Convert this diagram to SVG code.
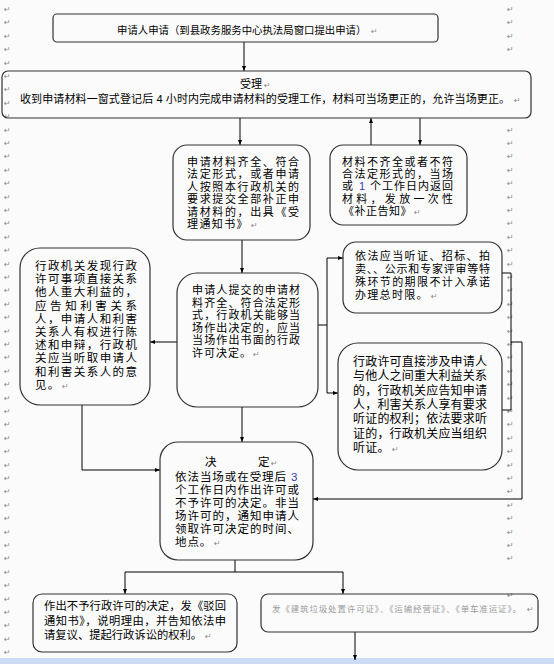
<svg xmlns="http://www.w3.org/2000/svg" width="554" height="664" viewBox="0 0 554 664">
<defs>
<marker id="ah" viewBox="0 0 10 10" refX="10" refY="5" markerWidth="5" markerHeight="5" orient="auto" markerUnits="userSpaceOnUse"><path d="M0,1 L10,5 L0,9 z" fill="#000"/></marker>
<style>
.box{fill:none;stroke:#333;stroke-width:1.2}
.t{font-family:"Liberation Sans","Noto Sans CJK SC","Noto Sans CJK JP",sans-serif;font-size:11px;fill:#000}
.pm{font-family:"DejaVu Sans",sans-serif;font-size:8px;fill:#8a8a8a}
.ln{fill:none;stroke:#000;stroke-width:1}
.ar{fill:none;stroke:#000;stroke-width:1;marker-end:url(#ah)}
.blue{fill:#3a3ab0}
</style>
</defs>
<rect x="0" y="0" width="554" height="664" fill="#fbfbfb"/>
<rect x="0" y="658" width="554" height="6" fill="#cbdcf4"/>

<g id="marks">
<text class="pm" x="4" y="12"><tspan x="4" dy="0">↵</tspan><tspan x="4" dy="13.4">↵</tspan><tspan x="4" dy="13.4">↵</tspan><tspan x="4" dy="13.4">↵</tspan><tspan x="4" dy="13.4">↵</tspan><tspan x="4" dy="13.4">↵</tspan><tspan x="4" dy="13.4">↵</tspan><tspan x="4" dy="13.4">↵</tspan><tspan x="4" dy="13.4">↵</tspan><tspan x="4" dy="13.4">↵</tspan><tspan x="4" dy="13.4">↵</tspan><tspan x="4" dy="13.4">↵</tspan><tspan x="4" dy="13.4">↵</tspan><tspan x="4" dy="13.4">↵</tspan><tspan x="4" dy="13.4">↵</tspan><tspan x="4" dy="13.4">↵</tspan><tspan x="4" dy="13.4">↵</tspan><tspan x="4" dy="13.4">↵</tspan><tspan x="4" dy="13.4">↵</tspan><tspan x="4" dy="13.4">↵</tspan><tspan x="4" dy="13.4">↵</tspan><tspan x="4" dy="13.4">↵</tspan><tspan x="4" dy="13.4">↵</tspan><tspan x="4" dy="13.4">↵</tspan><tspan x="4" dy="13.4">↵</tspan><tspan x="4" dy="13.4">↵</tspan><tspan x="4" dy="13.4">↵</tspan><tspan x="4" dy="13.4">↵</tspan><tspan x="4" dy="13.4">↵</tspan><tspan x="4" dy="13.4">↵</tspan><tspan x="4" dy="13.4">↵</tspan><tspan x="4" dy="13.4">↵</tspan><tspan x="4" dy="13.4">↵</tspan><tspan x="4" dy="13.4">↵</tspan><tspan x="4" dy="13.4">↵</tspan><tspan x="4" dy="13.4">↵</tspan><tspan x="4" dy="13.4">↵</tspan><tspan x="4" dy="13.4">↵</tspan><tspan x="4" dy="13.4">↵</tspan><tspan x="4" dy="13.4">↵</tspan><tspan x="4" dy="13.4">↵</tspan><tspan x="4" dy="13.4">↵</tspan><tspan x="4" dy="13.4">↵</tspan><tspan x="4" dy="13.4">↵</tspan><tspan x="4" dy="13.4">↵</tspan><tspan x="4" dy="13.4">↵</tspan><tspan x="4" dy="13.4">↵</tspan><tspan x="4" dy="13.4">↵</tspan><tspan x="4" dy="13.4">↵</tspan></text>
<text class="pm" x="507" y="12"><tspan x="507" dy="0">↵</tspan><tspan x="507" dy="13.4">↵</tspan><tspan x="507" dy="13.4">↵</tspan><tspan x="507" dy="13.4">↵</tspan></text>
<text class="pm" x="507" y="132.6"><tspan x="507" dy="0">↵</tspan><tspan x="507" dy="13.4">↵</tspan><tspan x="507" dy="13.4">↵</tspan><tspan x="507" dy="13.4">↵</tspan><tspan x="507" dy="13.4">↵</tspan><tspan x="507" dy="13.4">↵</tspan><tspan x="507" dy="13.4">↵</tspan><tspan x="507" dy="13.4">↵</tspan><tspan x="507" dy="13.4">↵</tspan><tspan x="507" dy="13.4">↵</tspan><tspan x="507" dy="13.4">↵</tspan><tspan x="507" dy="13.4">↵</tspan><tspan x="507" dy="13.4">↵</tspan><tspan x="507" dy="13.4">↵</tspan><tspan x="507" dy="13.4">↵</tspan><tspan x="507" dy="13.4">↵</tspan><tspan x="507" dy="13.4">↵</tspan><tspan x="507" dy="13.4">↵</tspan><tspan x="507" dy="13.4">↵</tspan><tspan x="507" dy="13.4">↵</tspan><tspan x="507" dy="13.4">↵</tspan><tspan x="507" dy="13.4">↵</tspan><tspan x="507" dy="13.4">↵</tspan><tspan x="507" dy="13.4">↵</tspan><tspan x="507" dy="13.4">↵</tspan><tspan x="507" dy="13.4">↵</tspan><tspan x="507" dy="13.4">↵</tspan><tspan x="507" dy="13.4">↵</tspan><tspan x="507" dy="13.4">↵</tspan><tspan x="507" dy="13.4">↵</tspan><tspan x="507" dy="13.4">↵</tspan><tspan x="507" dy="13.4">↵</tspan><tspan x="507" dy="13.4">↵</tspan></text>
<text class="pm" x="507" y="598">↵</text>
</g>

<g id="connectors">
<line class="ar" x1="244" y1="42" x2="244" y2="71"/>
<line class="ar" x1="240" y1="118" x2="240" y2="145"/>
<line class="ar" x1="371" y1="145" x2="371" y2="118"/>
<line class="ar" x1="420" y1="118" x2="420" y2="145"/>
<line class="ar" x1="242" y1="240" x2="242" y2="273"/>
<line class="ar" x1="177" y1="342" x2="150" y2="342"/>
<polyline class="ln" points="318,325 327,325"/>
<polyline class="ln" points="327,258 327,393"/>
<line class="ar" x1="327" y1="258" x2="343" y2="258"/>
<line class="ar" x1="327" y1="393" x2="338" y2="393"/>
<polyline class="ln" points="502,273 511,273 511,410 502,410"/>
<polyline class="ar" points="511,342 522,342 522,499 313,499"/>
<polyline class="ar" points="82,405 82,470 160,470"/>
<line class="ar" x1="242" y1="407" x2="242" y2="442"/>
<polyline class="ln" points="235,560 235,572"/>
<polyline class="ln" points="125,572 343,572"/>
<line class="ar" x1="125" y1="572" x2="125" y2="594"/>
<line class="ar" x1="343" y1="572" x2="343" y2="594"/>
<line class="ar" x1="355" y1="632" x2="355" y2="660"/>
</g>

<g id="n1">
<rect class="box" x="53" y="14" width="385" height="28" rx="4"/>
<text class="t" style="font-size:10.4px"><tspan x="117" y="34">申请人申请（到县政务服务中心执法局窗口提出申请）</tspan><tspan class="pm" x="371" y="34">↵</tspan></text>
</g>

<g id="n2">
<rect class="box" x="2" y="71" width="529" height="47" rx="6"/>
<text class="t"><tspan x="240" y="88">受理</tspan><tspan class="pm" x="264" y="88">↵</tspan><tspan x="20" y="103" textLength="490" lengthAdjust="spacing">收到申请材料一窗式登记后 4 小时内完成申请材料的受理工作，材料可当场更正的，允许当场更正。</tspan><tspan class="pm" x="514" y="103">↵</tspan></text>
</g>

<g id="n3">
<rect class="box" x="173" y="145" width="137" height="95" rx="14"/>
<text class="t"><tspan x="187" y="166" textLength="112">申请材料齐全、符合</tspan><tspan x="187" y="178.4" textLength="112">法定形式，或者申请</tspan><tspan x="187" y="190.8" textLength="112">人按照本行政机关的</tspan><tspan x="187" y="203.2" textLength="112">要求提交全部补正申</tspan><tspan x="187" y="215.6" textLength="112">请材料的，出具《受</tspan><tspan x="187" y="228" style="letter-spacing:1.4px">理通知书》</tspan><tspan class="pm" x="251" y="228">↵</tspan></text>
</g>

<g id="n4">
<rect class="box" x="330" y="145" width="137" height="80" rx="13"/>
<text class="t"><tspan x="342" y="166" textLength="111">材料不齐全或者不符</tspan><tspan x="342" y="178.2" textLength="111">合法定形式的，当场</tspan><tspan x="342" y="190.4">或</tspan><tspan class="blue" x="359" y="190.4">1</tspan><tspan x="370" y="190.4" textLength="83">个工作日内返回</tspan><tspan x="342" y="202.6" textLength="111">材料，发放一次性</tspan><tspan x="343" y="214.8" style="letter-spacing:0.5px">《补正告知》</tspan><tspan class="pm" x="414" y="214.8">↵</tspan></text>
</g>

<g id="n5">
<rect class="box" x="20" y="248" width="130" height="157" rx="20"/>
<text class="t" style="font-size:11.5px"><tspan x="35" y="270" textLength="102">行政机关发现行政</tspan><tspan x="35" y="283.2" textLength="102">许可事项直接关系</tspan><tspan x="35" y="296.4" textLength="102">他人重大利益的，</tspan><tspan x="35" y="309.6" textLength="102">应告知利害关系</tspan><tspan x="35" y="322.8" textLength="102">人，申请人和利害</tspan><tspan x="35" y="336" textLength="102">关系人有权进行陈</tspan><tspan x="35" y="349.2" textLength="102">述和申辩，行政机</tspan><tspan x="35" y="362.4" textLength="102">关应当听取申请人</tspan><tspan x="35" y="375.6" textLength="102">和利害关系人的意</tspan><tspan x="35" y="388.8" style="letter-spacing:1.2px">见。</tspan><tspan class="pm" x="62" y="388.8">↵</tspan></text>
</g>

<g id="n6">
<rect class="box" x="177" y="273" width="141" height="134" rx="20"/>
<text class="t"><tspan x="192" y="294" textLength="108">申请人提交的申请材</tspan><tspan x="192" y="306.6" textLength="108">料齐全、符合法定形</tspan><tspan x="192" y="319.2" textLength="108">式，行政机关能够当</tspan><tspan x="192" y="331.8" textLength="108">场作出决定的，应当</tspan><tspan x="192" y="344.4" textLength="108">当场作出书面的行政</tspan><tspan x="192" y="357" style="letter-spacing:1px">许可决定。</tspan><tspan class="pm" x="253" y="357">↵</tspan></text>
</g>

<g id="n7">
<rect class="box" x="343" y="242" width="159" height="71" rx="13"/>
<text class="t"><tspan x="355" y="259.5" textLength="135">依法应当听证、招标、拍</tspan><tspan x="355" y="272.8" textLength="135">卖、、公示和专家评审等特</tspan><tspan x="355" y="286.1" textLength="135">殊环节的期限不计入承诺</tspan><tspan x="355" y="299.4" style="letter-spacing:1.3px">办理总时限。</tspan><tspan class="pm" x="431" y="299.4">↵</tspan></text>
</g>

<g id="n8">
<rect class="box" x="338" y="343" width="164" height="127" rx="20"/>
<text class="t" style="font-size:12px"><tspan x="353" y="366" textLength="134">行政许可直接涉及申请人</tspan><tspan x="353" y="380.3" textLength="134">与他人之间重大利益关系</tspan><tspan x="353" y="394.6" textLength="134">的，行政机关应告知申请</tspan><tspan x="353" y="408.9" textLength="134">人，利害关系人享有要求</tspan><tspan x="353" y="423.2" textLength="134">听证的权利；依法要求听</tspan><tspan x="353" y="437.5" textLength="134">证的，行政机关应当组织</tspan><tspan x="353" y="451.8" style="letter-spacing:0.2px">听证。</tspan><tspan class="pm" x="392" y="451.8">↵</tspan></text>
</g>

<g id="n9">
<rect class="box" x="160" y="442" width="153" height="118" rx="18"/>
<text class="t" style="font-size:11.5px"><tspan x="205" y="466">决</tspan><tspan x="258" y="466">定</tspan><tspan class="pm" x="271" y="466">↵</tspan><tspan x="175" y="481" textLength="111">依法当场或在受理后</tspan><tspan class="blue" x="291" y="481">3</tspan><tspan x="175" y="494" textLength="124">个工作日内作出许可或</tspan><tspan x="175" y="507" textLength="124">不予许可的决定。非当</tspan><tspan x="175" y="520" textLength="124">场许可的，通知申请人</tspan><tspan x="175" y="533" textLength="124">领取许可决定的时间、</tspan><tspan x="175" y="546" style="letter-spacing:0.9px">地点。</tspan><tspan class="pm" x="214" y="546">↵</tspan></text>
</g>

<g id="n10">
<rect class="box" x="33" y="594" width="204" height="58" rx="9"/>
<text class="t" style="font-size:11.3px"><tspan x="44" y="610" textLength="182">作出不予行政许可的决定，发《驳回</tspan><tspan x="44" y="624.5" textLength="182">通知书》，说明理由，并告知依法申</tspan><tspan x="44" y="639">请复议、提起行政诉讼的权利。</tspan><tspan class="pm" x="205" y="639">↵</tspan></text>
</g>

<g id="n11">
<rect class="box" x="261" y="594" width="277" height="38" rx="7"/>
<text class="t" style="font-size:8.5px;fill:#9a9a9a"><tspan x="272" y="612" textLength="249">发《建筑垃圾处置许可证》、《运输经营证》、《单车准运证》。</tspan><tspan class="pm" x="527" y="612">↵</tspan></text>
</g>
</svg>
